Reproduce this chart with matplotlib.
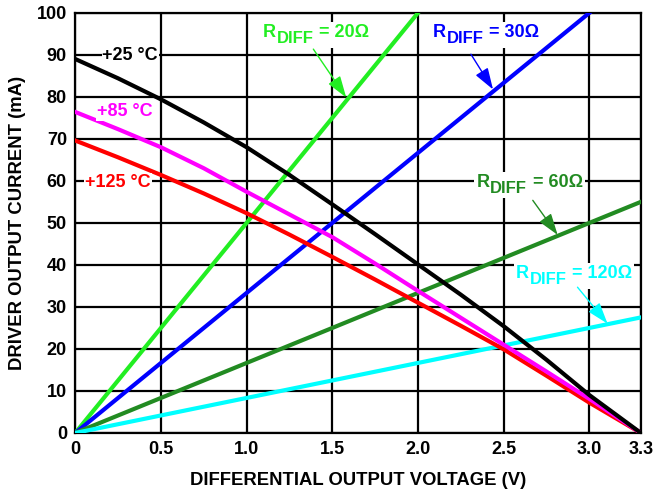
import matplotlib
matplotlib.use("Agg")
import matplotlib.pyplot as plt
from matplotlib.patches import Rectangle
from matplotlib.transforms import Bbox

plt.rcParams['font.family'] = ['Liberation Sans', 'DejaVu Sans']
plt.rcParams['font.weight'] = 'bold'

# temperature curves (driver output current vs differential output voltage)
volts = [0, 0.25, 0.5, 0.75, 1.0, 1.25, 1.5, 1.75, 2.0, 2.25, 2.5, 2.75, 3.0, 3.3]
i_25 = [89, 84.4, 79.4, 73.9, 68.0, 61.4, 54.4, 47.3, 40.1, 32.9, 25.4, 17.4, 9.0, 0]
i_85 = [76.4, 72.3, 68.0, 63.0, 57.4, 52.0, 46.6, 40.3, 33.8, 27.4, 21.0, 14.6, 8.1, 0]
i_125 = [69.6, 65.6, 61.4, 57.0, 52.3, 47.2, 41.9, 36.5, 31.0, 25.5, 19.9, 13.6, 7.2, 0]

# load lines
r20_v = [0, 2.0]
r20_i = [0, 100]
r30_v = [0, 3.0]
r30_i = [0, 100]
r60_v = [0, 3.3]
r60_i = [0, 55]
r120_v = [0, 3.3]
r120_i = [0, 27.5]

x_ticks = [0, 0.5, 1.0, 1.5, 2.0, 2.5, 3.0, 3.3]
x_labels = ['0', '0.5', '1.0', '1.5', '2.0', '2.5', '3.0', '3.3']
y_ticks = list(range(0, 101, 10))

FS = 13
fig = plt.figure(figsize=(6.6, 4.92), dpi=100)
ax = fig.add_axes([0.114, 0.12, 0.857, 0.854])

lw = 3.0
ax.plot(r20_v, r20_i, color='#22ee22', lw=lw, zorder=3)
ax.plot(r30_v, r30_i, color='#0000ff', lw=lw, zorder=3)
ax.plot(r60_v, r60_i, color='#228b22', lw=lw, zorder=3)
ax.plot(r120_v, r120_i, color='#00ffff', lw=lw, zorder=3)
ax.plot(volts, i_125, color='#ff0000', lw=lw, zorder=4)
ax.plot(volts, i_85, color='#ff00ff', lw=lw, zorder=4)
ax.plot(volts, i_25, color='black', lw=lw, zorder=4)

ax.set_xlim(0, 3.3)
ax.set_ylim(0, 100)
ax.set_xticks(x_ticks)
ax.set_xticklabels(x_labels)
ax.set_yticks(y_ticks)
ax.tick_params(length=0, labelsize=FS, pad=6)
ax.grid(True, color='black', lw=1.6)
ax.set_axisbelow(True)
for s in ax.spines.values():
    s.set_linewidth(1.6)

ax.set_xlabel('DIFFERENTIAL OUTPUT VOLTAGE (V)', fontsize=13.3, fontweight='bold', labelpad=10)
ax.set_ylabel('DRIVER OUTPUT CURRENT (mA)', fontsize=13.3, fontweight='bold', labelpad=8)

bg = dict(facecolor='white', edgecolor='none', pad=0.5)
ax.text(0.159, 89.8, '+25 °C', color='black', fontsize=FS, va='center', bbox=bg, zorder=5)
ax.text(0.126, 76.5, '+85 °C', color='#ff00ff', fontsize=FS, va='center', bbox=bg, zorder=5)
ax.text(0.058, 59.6, '+125 °C', color='#ff0000', fontsize=FS, va='center', bbox=bg, zorder=5)

labels = [
    ('= 20Ω', '#22ee22', (1.095, 95.2), (1.38, 91.9), (1.59, 79.3)),
    ('= 30Ω', '#0000ff', (2.085, 95.2), (2.30, 90.7), (2.446, 81.2)),
    ('= 60Ω', '#228b22', (2.34, 59.6), (2.66, 55.9), (2.824, 46.6)),
    ('= 120Ω', '#00ffff', (2.57, 38.0), (2.92, 35.2), (3.116, 25.5)),
]
pieces = []
for rest, col, pos, tail, head in labels:
    t1 = ax.text(pos[0], pos[1], 'R', color=col, fontsize=FS, va='center', zorder=5)
    t2 = ax.annotate('DIFF', xy=(1, 0), xycoords=t1, xytext=(0.5, -3.5),
                     textcoords='offset points', color=col, fontsize=12,
                     va='bottom', ha='left', zorder=5)
    t3 = ax.annotate(rest, xy=(1, 0), xycoords=(t2, t1), xytext=(4, 0),
                     textcoords='offset points', color=col, fontsize=FS,
                     va='bottom', ha='left', zorder=5)
    pieces.append((t1, t2, t3))
    ax.annotate('', xy=head, xytext=tail,
                arrowprops=dict(arrowstyle='-|>,head_length=1.2,head_width=0.4',
                                mutation_scale=11, color=col, lw=1.0),
                zorder=6)

# white patch behind each R_DIFF label so the grid is broken around it
fig.canvas.draw()
r = fig.canvas.get_renderer()
inv = ax.transData.inverted()
for trio in pieces:
    bb = Bbox.union([t.get_window_extent(r) for t in trio]).expanded(1.0, 1.0)
    bb = bb.padded(2)
    (x0, y0), (x1, y1) = inv.transform([[bb.x0, bb.y0], [bb.x1, bb.y1]])
    ax.add_patch(Rectangle((x0, y0), x1 - x0, y1 - y0, facecolor='white',
                           edgecolor='none', zorder=4.8))

fig.savefig('out.png', dpi=100)
